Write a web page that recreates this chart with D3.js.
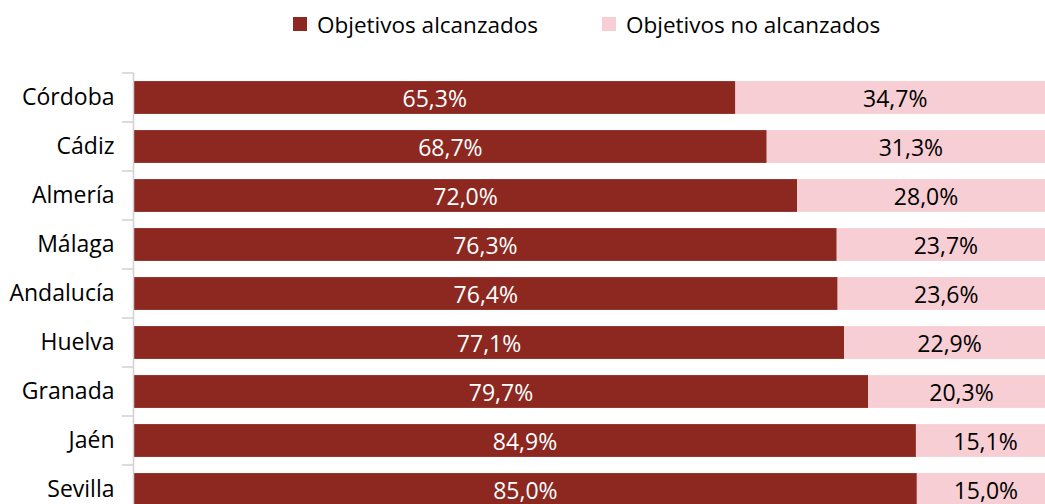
<!DOCTYPE html>
<html>
<head>
<meta charset="utf-8">
<script src="https://cdn.jsdelivr.net/npm/d3@7"></script>
<style>
  html, body { margin: 0; padding: 0; background: #fff; overflow: hidden; }
  svg { display: block; font-family: "Open Sans", "Noto Sans", sans-serif; }
</style>
</head>
<body>
<svg id="chart" width="1045" height="504"></svg>
<script>
// Provinces, in display order (top to bottom)
const categories = ["Córdoba", "Cádiz", "Almería", "Málaga", "Andalucía", "Huelva", "Granada", "Jaén", "Sevilla"];
// Share of objectives reached / not reached (%)
const alcanzados = [65.3, 68.7, 72.0, 76.3, 76.4, 77.1, 79.7, 84.9, 85.0];
const noAlcanzados = [34.7, 31.3, 28.0, 23.7, 23.6, 22.9, 20.3, 15.1, 15.0];
const seriesNames = ["Objetivos alcanzados", "Objetivos no alcanzados"];
const seriesColors = ["#8C2820", "#F7CED4"];
const labelColors = ["#ffffff", "#000000"];

const svg = d3.select("#chart");

const rows = categories.map((c, i) => ({ cat: c, a: alcanzados[i], n: noAlcanzados[i] }));
const stack = d3.stack().keys(["a", "n"])(rows);

const x = d3.scaleLinear().domain([0, 100]).range([134, 1055]);
const y = d3.scaleBand().domain(categories).range([73, 514]).paddingInner(0.33).paddingOuter(0.165);

const fmt = v => d3.format(".1f")(v).replace(".", ",") + "%";

// Bars and value labels
stack.forEach((layer, si) => {
  const g = svg.append("g");
  g.selectAll("rect").data(layer).join("rect")
    .attr("x", d => x(d[0]))
    .attr("y", d => y(d.data.cat))
    .attr("width", d => x(d[1]) - x(d[0]))
    .attr("height", y.bandwidth())
    .attr("fill", seriesColors[si]);
  g.selectAll("text").data(layer).join("text")
    .attr("x", d => (x(d[0]) + x(d[1])) / 2)
    .attr("y", d => y(d.data.cat) + y.bandwidth() / 2)
    .attr("text-anchor", "middle")
    .attr("dominant-baseline", "central")
    .attr("font-size", 23)
    .attr("fill", labelColors[si])
    .text(d => fmt(d[1] - d[0]));
});

// Category axis
const axisG = svg.append("g").attr("transform", "translate(133.5,0)")
  .call(d3.axisLeft(y).tickSize(0).tickPadding(19));
axisG.select(".domain").remove();
axisG.selectAll("text").attr("font-size", 23).attr("fill", "#000")
  .attr("font-family", "\"Open Sans\", \"Noto Sans\", sans-serif");

// Axis line with tick marks between categories
const step = y.step();
const boundaries = categories.map((c, i) => y(c) - y.paddingInner() * step / 2);
svg.append("line").attr("x1", 133.5).attr("x2", 133.5).attr("y1", boundaries[0]).attr("y2", 504)
  .attr("stroke", "#d0d0d0").attr("stroke-width", 1.5);
svg.append("g").selectAll("line").data(boundaries).join("line")
  .attr("x1", 122).attr("x2", 133.5).attr("y1", d => d).attr("y2", d => d)
  .attr("stroke", "#d0d0d0").attr("stroke-width", 1.5);

// Legend
const legend = svg.append("g");
const legendX = [293, 602];
seriesNames.forEach((name, i) => {
  legend.append("rect").attr("x", legendX[i]).attr("y", 17).attr("width", 14).attr("height", 14)
    .attr("fill", seriesColors[i]);
  legend.append("text").attr("x", legendX[i] + 24).attr("y", 24)
    .attr("dominant-baseline", "central").attr("font-size", 22.5).attr("fill", "#000")
    .text(name);
});
</script>
</body>
</html>
